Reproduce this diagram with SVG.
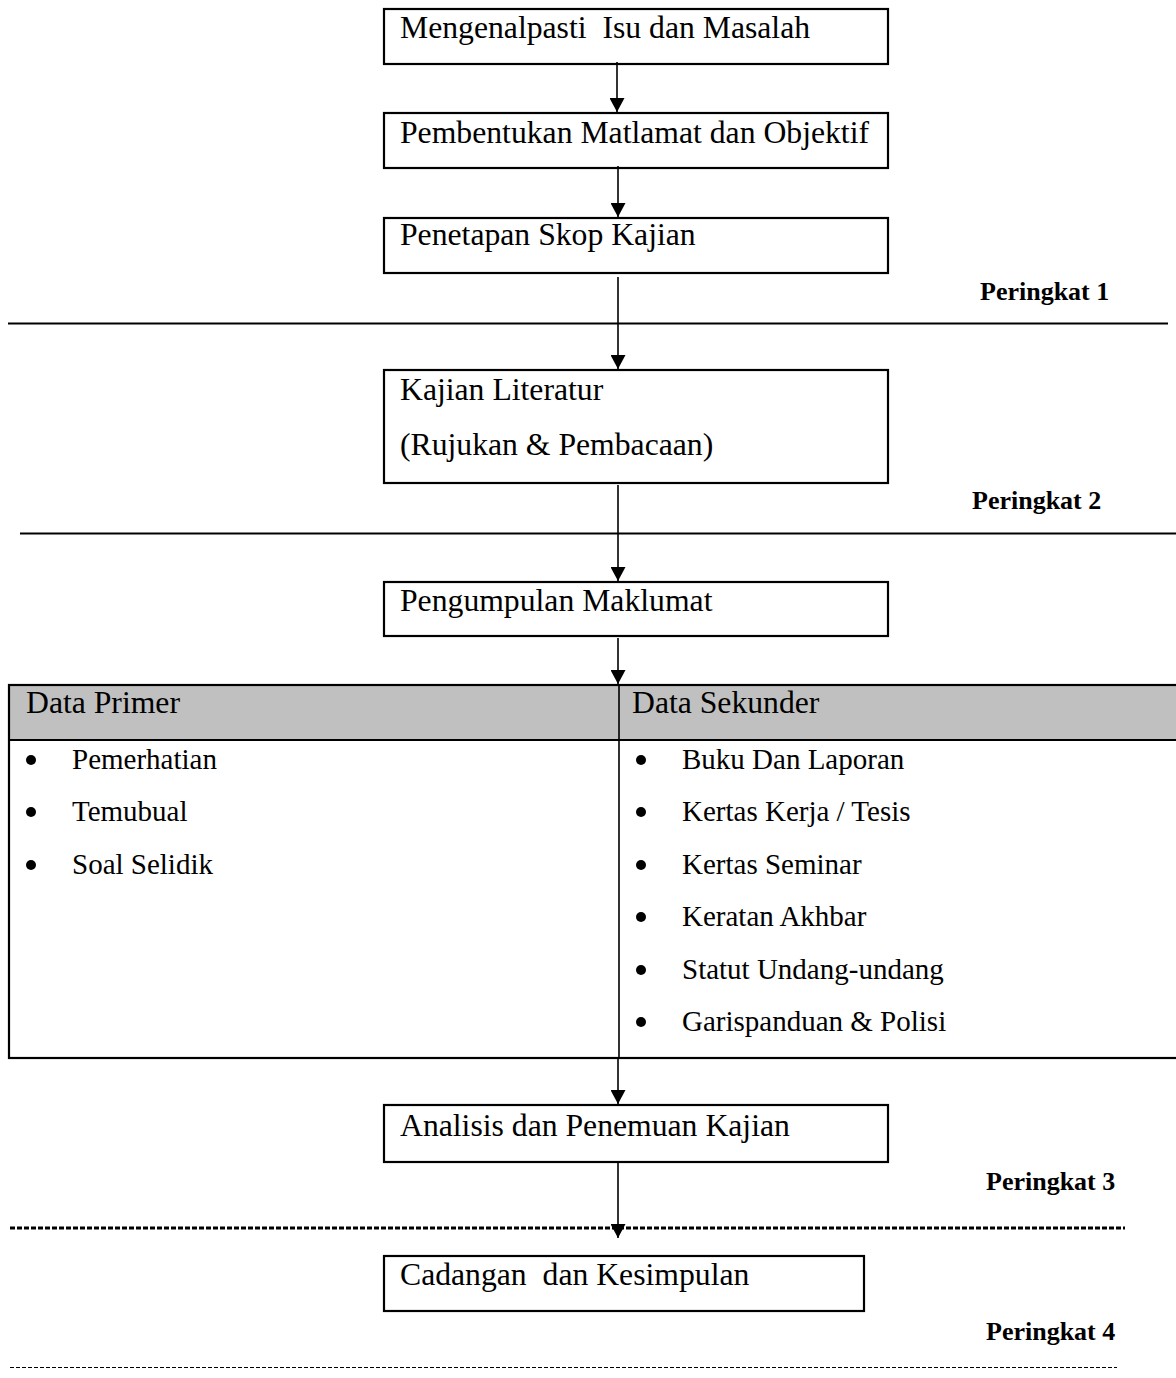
<svg xmlns="http://www.w3.org/2000/svg" width="1176" height="1378" viewBox="0 0 1176 1378">
<defs>
<style>
.box{fill:#fff;stroke:#000;stroke-width:2.2}
.t{font-family:"Liberation Serif","Times New Roman",serif;font-size:31.7px;fill:#000;white-space:pre}
.li{font-family:"Liberation Serif","Times New Roman",serif;font-size:29px;fill:#000}
.pk{font-family:"Liberation Serif","Times New Roman",serif;font-size:26px;font-weight:bold;fill:#000}
.conn{stroke:#000;stroke-width:1.6;fill:none}
.sep{stroke:#000;stroke-width:2.2}
</style>
<marker id="ah" viewBox="0 0 14 15" refX="14" refY="7.5" markerWidth="14" markerHeight="15" markerUnits="userSpaceOnUse" orient="auto">
<path d="M0,0 L14,7.5 L0,15 z" fill="#000"/>
</marker>
</defs>
<rect width="1176" height="1378" fill="#fff"/>

<g id="separators">
<line class="sep" x1="8" y1="323.5" x2="1168" y2="323.5"/>
<line class="sep" x1="20" y1="533.5" x2="1176" y2="533.5"/>
<line x1="10" y1="1228" x2="1125" y2="1228" stroke="#000" stroke-width="3.2" stroke-dasharray="5,2"/>
<line x1="10" y1="1367.5" x2="1117" y2="1367.5" stroke="#000" stroke-width="1" stroke-dasharray="4,2"/>
</g>

<g id="n1"><rect class="box" x="384" y="9" width="504" height="55"/><text class="t" x="400" y="38" xml:space="preserve">Mengenalpasti  Isu dan Masalah</text></g>
<g id="n2"><rect class="box" x="384" y="113" width="504" height="55"/><text class="t" x="400" y="143">Pembentukan Matlamat dan Objektif</text></g>
<g id="n3"><rect class="box" x="384" y="218" width="504" height="55"/><text class="t" x="400" y="245">Penetapan Skop Kajian</text></g>
<g id="n4"><rect class="box" x="384" y="370" width="504" height="113"/><text class="t" x="400" y="400">Kajian Literatur</text><text class="t" x="400" y="455">(Rujukan &amp; Pembacaan)</text></g>
<g id="n5"><rect class="box" x="384" y="582" width="504" height="54"/><text class="t" x="400" y="611">Pengumpulan Maklumat</text></g>

<g id="table">
<rect x="9" y="685" width="1170" height="55" fill="#c0c0c0"/>
<rect x="9" y="685" width="1170" height="373" fill="none" stroke="#000" stroke-width="2.2"/>
<line x1="9" y1="740" x2="1176" y2="740" stroke="#000" stroke-width="2.2"/>
<line x1="619" y1="685" x2="619" y2="1058" stroke="#000" stroke-width="1.6"/>
<text class="t" x="26" y="713">Data Primer</text>
<text class="t" x="632" y="713">Data Sekunder</text>
<g fill="#000">
<circle cx="31" cy="760" r="5"/><circle cx="31" cy="812" r="5"/><circle cx="31" cy="865" r="5"/>
<circle cx="641" cy="760" r="5"/><circle cx="641" cy="812" r="5"/><circle cx="641" cy="865" r="5"/>
<circle cx="641" cy="917" r="5"/><circle cx="641" cy="970" r="5"/><circle cx="641" cy="1022" r="5"/>
</g>
<text class="li" x="72" y="769">Pemerhatian</text>
<text class="li" x="72" y="821">Temubual</text>
<text class="li" x="72" y="874">Soal Selidik</text>
<text class="li" x="682" y="769">Buku Dan Laporan</text>
<text class="li" x="682" y="821">Kertas Kerja / Tesis</text>
<text class="li" x="682" y="874">Kertas Seminar</text>
<text class="li" x="682" y="926">Keratan Akhbar</text>
<text class="li" x="682" y="979">Statut Undang-undang</text>
<text class="li" x="682" y="1031">Garispanduan &amp; Polisi</text>
</g>

<g id="n6"><rect class="box" x="384" y="1105" width="504" height="57"/><text class="t" x="400" y="1136">Analisis dan Penemuan Kajian</text></g>
<g id="n7"><rect class="box" x="384" y="1256" width="480" height="55"/><text class="t" x="400" y="1285" xml:space="preserve">Cadangan  dan Kesimpulan</text></g>

<g id="labels">
<text class="pk" x="980" y="300">Peringkat 1</text>
<text class="pk" x="972" y="509">Peringkat 2</text>
<text class="pk" x="986" y="1190">Peringkat 3</text>
<text class="pk" x="986" y="1340">Peringkat 4</text>
</g>

<g id="connectors">
<line class="conn" x1="617" y1="62" x2="617" y2="112" marker-end="url(#ah)"/>
<line class="conn" x1="618" y1="166" x2="618" y2="217" marker-end="url(#ah)"/>
<line class="conn" x1="618" y1="277" x2="618" y2="369" marker-end="url(#ah)"/>
<line class="conn" x1="618" y1="485" x2="618" y2="581" marker-end="url(#ah)"/>
<line class="conn" x1="618" y1="638" x2="618" y2="684" marker-end="url(#ah)"/>
<line class="conn" x1="618" y1="1058" x2="618" y2="1104" marker-end="url(#ah)"/>
<line class="conn" x1="618" y1="1163" x2="618" y2="1238" marker-end="url(#ah)"/>
</g>
</svg>
